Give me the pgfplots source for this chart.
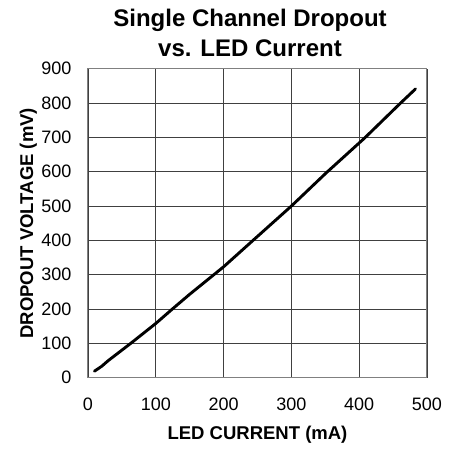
\documentclass[border=0pt]{standalone}
\usepackage{pgfplots}
\pgfplotsset{compat=1.18}
\usepackage{fontspec}
\setmainfont{Liberation Sans}
\begin{document}
\begin{tikzpicture}
\useasboundingbox (0,0) rectangle (461pt,448pt);
\begin{axis}[
  at={(88pt,70.3pt)}, anchor=south west,
  scale only axis, width=339pt, height=309pt,
  xmin=0, xmax=500, ymin=0, ymax=900,
  xtick={0,100,...,500}, ytick={0,100,...,900},
  grid=major,
  major grid style={draw=black!75, line width=0.9pt},
  axis line style={draw=black!50, line width=1pt},
  major tick length=0pt,
  /pgf/number format/assume math mode=true,
  tick label style={font=\fontsize{18}{18}\selectfont, inner sep=0pt},
  xticklabel style={anchor=base, yshift=-32.7pt},
  yticklabel style={anchor=east, xshift=-16.3pt},
  xlabel={LED CURRENT (mA)},
  ylabel={DROPOUT VOLTAGE (mV)},
  label style={font=\bfseries\fontsize{18.5}{18.5}\selectfont, inner sep=0pt},
  xlabel style={at={(axis description cs:0.5,-0.1984)}, anchor=base},
  ylabel style={at={(axis description cs:-0.1622,0.5)}, anchor=base, rotate=0},
]
\addplot[black, line width=2.9pt, line cap=round, line join=round] coordinates {
(9.5,19) (20,33) (30,50) (63,100) (100,158) (125,201) (150,243) (200,323)
(244,401) (300,500) (351,596) (408.5,699) (460,798) (483,841)
};
\end{axis}
\node[anchor=base, font=\bfseries\fontsize{24}{24}\selectfont, inner sep=0pt] at (250pt,421.5pt) {Single Channel Dropout};
\node[anchor=base, font=\bfseries\fontsize{24}{24}\selectfont, inner sep=0pt] at (250pt,391pt) {vs. LED Current};
\end{tikzpicture}
\end{document}
